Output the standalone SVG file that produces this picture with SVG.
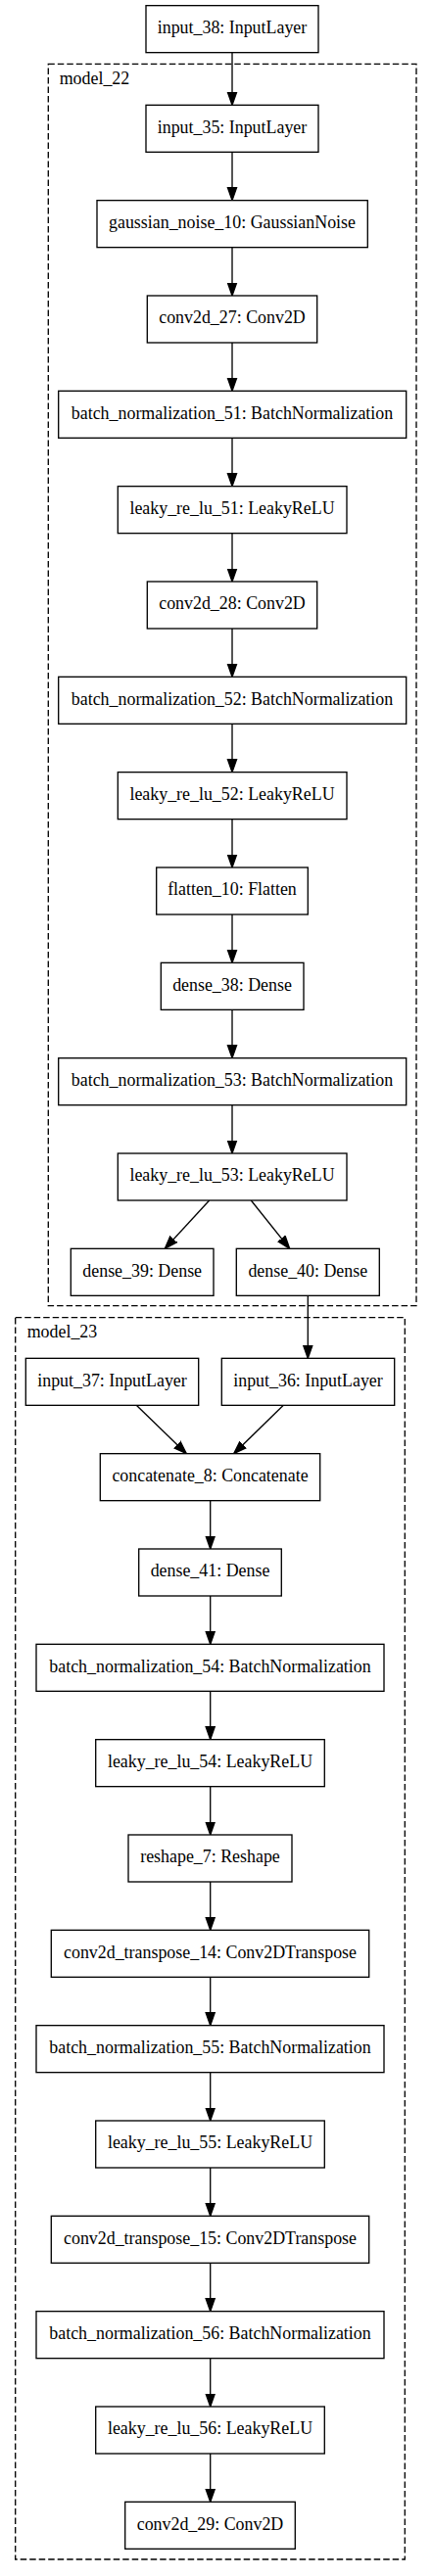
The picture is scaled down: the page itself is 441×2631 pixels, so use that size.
<svg xmlns="http://www.w3.org/2000/svg" width="441" height="2631" viewBox="0 0 441 2631">
<style>
.n rect{fill:#fff;stroke:#000;stroke-width:1.33}
.n text, .cl text{font-family:"Liberation Serif","Times New Roman",serif;font-size:17.9px;fill:#000}
.n text{text-anchor:middle}
.cl rect{fill:none;stroke:#000;stroke-width:1.33;stroke-dasharray:6.5,3}
.e path{fill:none;stroke:#000;stroke-width:1.33;marker-end:url(#ah)}
</style>
<defs>
<marker id="ah" markerUnits="userSpaceOnUse" markerWidth="15" markerHeight="12" viewBox="0 -6 15 12" refX="13.33" refY="0" orient="auto">
<path d="M0,-4.67 L13.33,0 L0,4.67 z" fill="#000" stroke="#000" stroke-width="1.33"/>
</marker>
</defs>
<rect width="441" height="2631" fill="#fff"/>
<g class="cl" id="model_22"><rect x="49.3" y="65.3" width="375.7" height="1268.4"/><text x="60.7" y="86">model_22</text></g>
<g class="cl" id="model_23"><rect x="15.7" y="1345.7" width="397.6" height="1268.3"/><text x="27.7" y="1366">model_23</text></g>
<g class="e" id="edges">
<path d="M237,53.67 V107.33"/>
<path d="M237,155.33 V204.67"/>
<path d="M237,252.67 V302"/>
<path d="M237,350 V399.33"/>
<path d="M237,447.33 V496.67"/>
<path d="M237,544.67 V594"/>
<path d="M237,642 V691.33"/>
<path d="M237,739.33 V788.67"/>
<path d="M237,836.67 V886"/>
<path d="M237,934 V983.33"/>
<path d="M237,1031.33 V1080.67"/>
<path d="M237,1128.67 V1178"/>
<path d="M213.7,1226 L168.3,1275.33"/>
<path d="M256.3,1226 L295.7,1275.33"/>
<path d="M314.3,1323.33 V1387.33"/>
<path d="M139.3,1435.33 L190.3,1484.67"/>
<path d="M289.3,1435.33 L238.7,1484.67"/>
<path d="M214.7,1532.67 V1582"/>
<path d="M214.7,1630 V1679.33"/>
<path d="M214.7,1727.33 V1776.67"/>
<path d="M214.7,1824.67 V1874"/>
<path d="M214.7,1922 V1971.33"/>
<path d="M214.7,2019.33 V2068.67"/>
<path d="M214.7,2116.67 V2166"/>
<path d="M214.7,2214 V2263.33"/>
<path d="M214.7,2311.33 V2360.67"/>
<path d="M214.7,2408.67 V2458"/>
<path d="M214.7,2506 V2555.33"/>
</g>
<g class="n" id="input_38"><rect x="149" y="5.67" width="176" height="48"/><text x="237" y="34">input_38: InputLayer</text></g>
<g class="n" id="input_35"><rect x="149" y="107.33" width="176" height="48"/><text x="237" y="135.6">input_35: InputLayer</text></g>
<g class="n" id="gaussian_noise_10"><rect x="99" y="204.67" width="276.3" height="48"/><text x="237" y="233">gaussian_noise_10: GaussianNoise</text></g>
<g class="n" id="conv2d_27"><rect x="150.3" y="302" width="173.4" height="48"/><text x="237" y="330.3">conv2d_27: Conv2D</text></g>
<g class="n" id="batch_normalization_51"><rect x="59.7" y="399.33" width="355" height="48"/><text x="237" y="427.6">batch_normalization_51: BatchNormalization</text></g>
<g class="n" id="leaky_re_lu_51"><rect x="120.3" y="496.67" width="233.7" height="48"/><text x="237" y="525">leaky_re_lu_51: LeakyReLU</text></g>
<g class="n" id="conv2d_28"><rect x="150.3" y="594" width="173.4" height="48"/><text x="237" y="622.3">conv2d_28: Conv2D</text></g>
<g class="n" id="batch_normalization_52"><rect x="59.7" y="691.33" width="355" height="48"/><text x="237" y="719.6">batch_normalization_52: BatchNormalization</text></g>
<g class="n" id="leaky_re_lu_52"><rect x="120.3" y="788.67" width="233.7" height="48"/><text x="237" y="817">leaky_re_lu_52: LeakyReLU</text></g>
<g class="n" id="flatten_10"><rect x="159.7" y="886" width="154.6" height="48"/><text x="237" y="914.3">flatten_10: Flatten</text></g>
<g class="n" id="dense_38"><rect x="164.3" y="983.33" width="145.7" height="48"/><text x="237" y="1011.6">dense_38: Dense</text></g>
<g class="n" id="batch_normalization_53"><rect x="59.7" y="1080.67" width="355" height="48"/><text x="237" y="1109">batch_normalization_53: BatchNormalization</text></g>
<g class="n" id="leaky_re_lu_53"><rect x="120.3" y="1178" width="233.7" height="48"/><text x="237" y="1206.3">leaky_re_lu_53: LeakyReLU</text></g>
<g class="n" id="dense_39"><rect x="72.3" y="1275.33" width="145.7" height="48"/><text x="145.2" y="1303.6">dense_39: Dense</text></g>
<g class="n" id="dense_40"><rect x="241.3" y="1275.33" width="146" height="48"/><text x="314.3" y="1303.6">dense_40: Dense</text></g>
<g class="n" id="input_37"><rect x="26.3" y="1387.33" width="176.4" height="48"/><text x="114.5" y="1415.6">input_37: InputLayer</text></g>
<g class="n" id="input_36"><rect x="226.3" y="1387.33" width="176.4" height="48"/><text x="314.5" y="1415.6">input_36: InputLayer</text></g>
<g class="n" id="concatenate_8"><rect x="102.3" y="1484.67" width="224.4" height="48"/><text x="214.5" y="1513">concatenate_8: Concatenate</text></g>
<g class="n" id="dense_41"><rect x="141.7" y="1582" width="145.6" height="48"/><text x="214.5" y="1610.3">dense_41: Dense</text></g>
<g class="n" id="batch_normalization_54"><rect x="37" y="1679.33" width="355" height="48"/><text x="214.5" y="1707.6">batch_normalization_54: BatchNormalization</text></g>
<g class="n" id="leaky_re_lu_54"><rect x="97.7" y="1776.67" width="233.6" height="48"/><text x="214.5" y="1805">leaky_re_lu_54: LeakyReLU</text></g>
<g class="n" id="reshape_7"><rect x="131" y="1874" width="167" height="48"/><text x="214.5" y="1902.3">reshape_7: Reshape</text></g>
<g class="n" id="conv2d_transpose_14"><rect x="52.3" y="1971.33" width="324.4" height="48"/><text x="214.5" y="1999.6">conv2d_transpose_14: Conv2DTranspose</text></g>
<g class="n" id="batch_normalization_55"><rect x="37" y="2068.67" width="355" height="48"/><text x="214.5" y="2097">batch_normalization_55: BatchNormalization</text></g>
<g class="n" id="leaky_re_lu_55"><rect x="97.7" y="2166" width="233.6" height="48"/><text x="214.5" y="2194.3">leaky_re_lu_55: LeakyReLU</text></g>
<g class="n" id="conv2d_transpose_15"><rect x="52.3" y="2263.33" width="324.4" height="48"/><text x="214.5" y="2291.6">conv2d_transpose_15: Conv2DTranspose</text></g>
<g class="n" id="batch_normalization_56"><rect x="37" y="2360.67" width="355" height="48"/><text x="214.5" y="2389">batch_normalization_56: BatchNormalization</text></g>
<g class="n" id="leaky_re_lu_56"><rect x="97.7" y="2458" width="233.6" height="48"/><text x="214.5" y="2486.3">leaky_re_lu_56: LeakyReLU</text></g>
<g class="n" id="conv2d_29"><rect x="127.7" y="2555.33" width="173.6" height="48"/><text x="214.5" y="2583.6">conv2d_29: Conv2D</text></g>
</svg>
